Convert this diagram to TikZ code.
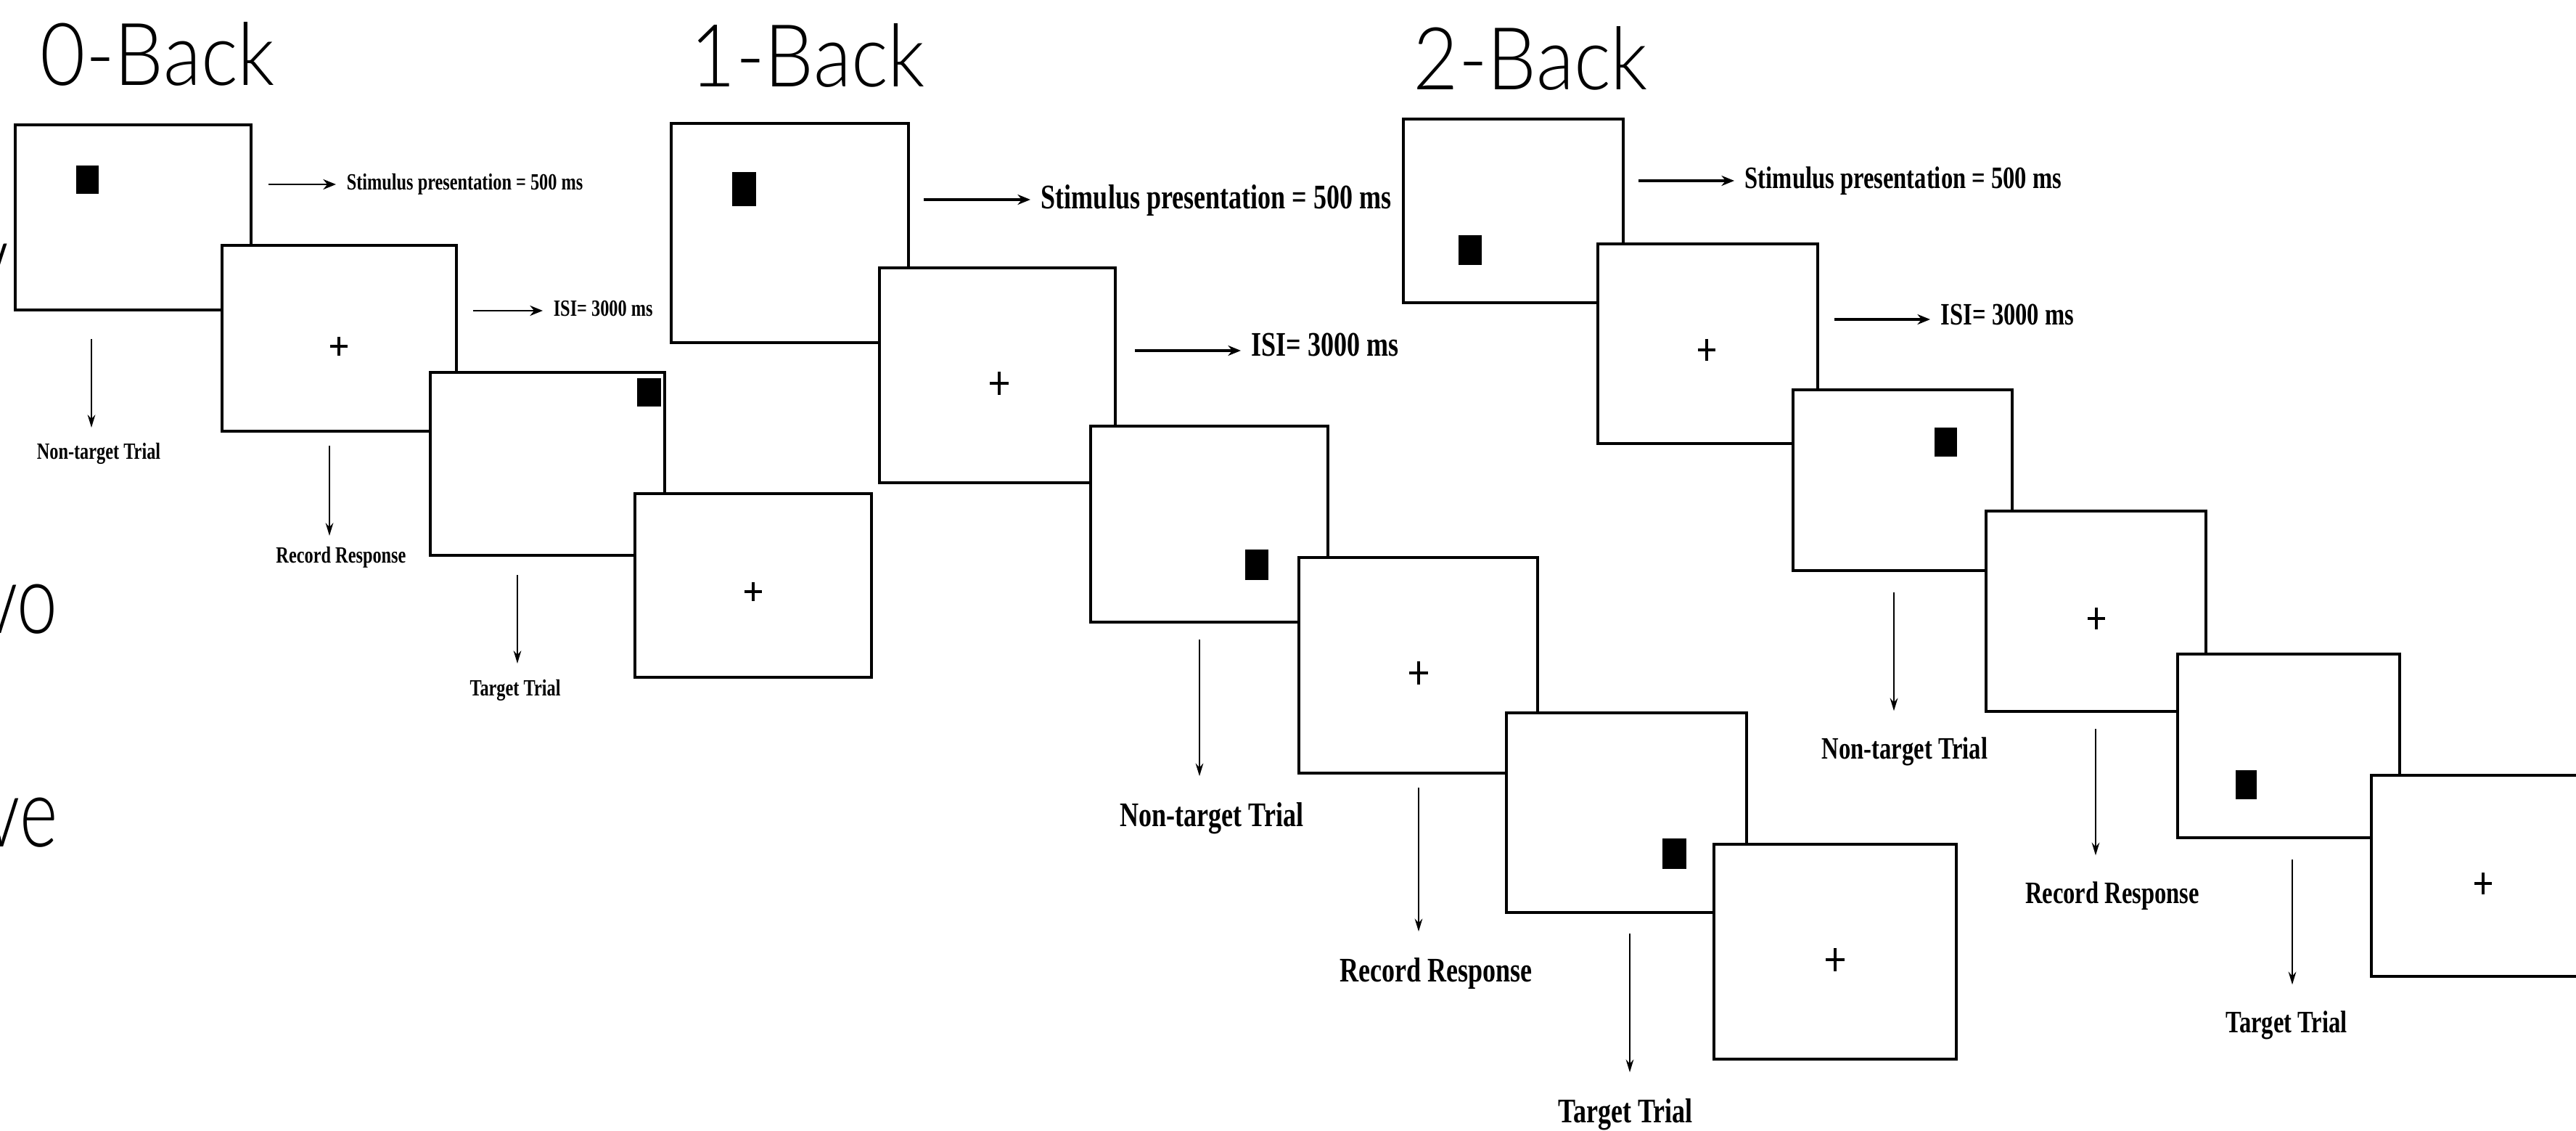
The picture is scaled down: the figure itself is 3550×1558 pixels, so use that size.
\documentclass[tikz,border=0pt]{standalone}
\usepackage{fontspec}
\setmainfont{Liberation Serif}
\newfontfamily\condfont[FakeStretch=0.76]{Liberation Serif}
\newfontfamily\titlefont[FakeStretch=0.9]{Lato Light}
\newfontfamily\fragfont[FakeStretch=0.75]{Lato Light}
\usetikzlibrary{arrows.meta}

\tikzset{
  scr/.style={draw, line width=0.9pt, fill=white},
  stim/.style={fill=black},
  fixc/.style={line width=1pt},
  harrow/.style={-{Stealth[length=5pt,width=4pt]}, line width=1.1pt},
  varrow/.style={-{Stealth[length=5pt,width=3pt]}, line width=0.8pt, shorten >=#1},
  varrow/.default=2pt,
  lab/.style={font=\condfont\bfseries\fontsize{#1}{#1}\selectfont, inner sep=4pt},
  ttl/.style={font=\titlefont\fontsize{34}{40}\selectfont, anchor=base west, inner sep=0pt},
  frag/.style={font=\fragfont\fontsize{38}{40}\selectfont, anchor=base east, inner sep=0pt},
}

\begin{document}
\begin{tikzpicture}[x=0.01cm, y=-0.01cm]
    \useasboundingbox (0,0) rectangle (3550,1558);
    \fill[white] (0,0) rectangle (3550,1558);
    \clip (0,0) rectangle (3550,1558);
    % ---- cut-off slide text ----
    \node[frag] (f1) at (12,403) {y};
    \node[frag] (f2) at (80,872) {vo};
    \node[frag] (f3) at (80,1166) {ve};
    % ---- 0-Back ----
    \node[ttl] (t0) at (55,118) {0-Back};
    \draw[scr] (21,172) rectangle (346,427);
    \fill[stim] (105,228) rectangle (136,267);
    \draw[scr] (306,338) rectangle (629,594);
    \draw[fixc] (467,477) +(-12,0) -- +(12,0) +(0,-13) -- +(0,13);
    \draw[scr] (593,513) rectangle (916,765);
    \fill[stim] (878,521) rectangle (911,560);
    \draw[scr] (875,680) rectangle (1201,933);
    \draw[fixc] (1038,815) +(-12,0) -- +(12,0) +(0,-13) -- +(0,13);
    \coordinate (s0) at (370,254);
    \node[lab=9.1, anchor=base west] (sp0) at (463,262) {Stimulus presentation = 500 ms};
    \draw[harrow, line width=0.8pt] (s0) -- (s0 -| sp0.west);
    \coordinate (i0) at (652,428);
    \node[lab=9.1, anchor=base west] (isi0) at (748,436) {ISI= 3000 ms};
    \draw[harrow, line width=0.8pt] (i0) -- (i0 -| isi0.west);
    \coordinate (n0) at (126,467);
    \node[lab=9.1, anchor=base] (nt0) at (136,633) {Non-target Trial};
    \draw[varrow] (n0) -- (n0 |- nt0.north);
    \coordinate (r0) at (454,614);
    \node[lab=9.1, anchor=base] (rr0) at (470,775) {Record Response};
    \draw[varrow=0pt] (r0) -- (r0 |- rr0.north);
    \coordinate (g0) at (713,792);
    \node[lab=9.1, anchor=base] (tt0) at (710,958) {Target Trial};
    \draw[varrow] (g0) -- (g0 |- tt0.north);
    % ---- 1-Back ----
    \node[ttl] (t1) at (951,120) {1-Back};
    \draw[scr] (925,170) rectangle (1252,472);
    \fill[stim] (1009,237) rectangle (1042,284);
    \draw[scr] (1212,369) rectangle (1537,665);
    \draw[fixc] (1377,528) +(-13,0) -- +(13,0) +(0,-16) -- +(0,16);
    \draw[scr] (1503,587) rectangle (1830,857);
    \fill[stim] (1716,757) rectangle (1748,799);
    \draw[scr] (1790,768) rectangle (2119,1065);
    \draw[fixc] (1955,927) +(-13,0) -- +(13,0) +(0,-16) -- +(0,16);
    \draw[scr] (2076,982) rectangle (2407,1257);
    \fill[stim] (2291,1155) rectangle (2324,1197);
    \draw[scr] (2362,1163) rectangle (2696,1459);
    \draw[fixc] (2529,1322) +(-13,0) -- +(13,0) +(0,-16) -- +(0,16);
    \coordinate (s1) at (1273,275);
    \node[lab=13.5, anchor=base west] (sp1) at (1420,288) {Stimulus presentation = 500 ms};
    \draw[harrow] (s1) -- (s1 -| sp1.west);
    \coordinate (i1) at (1564,483);
    \node[lab=13.5, anchor=base west] (isi1) at (1710,491) {ISI= 3000 ms};
    \draw[harrow] (i1) -- (i1 -| isi1.west);
    \coordinate (n1) at (1653,881);
    \node[lab=13.5, anchor=base] (nt1) at (1670,1138) {Non-target Trial};
    \draw[varrow=6pt] (n1) -- (n1 |- nt1.north);
    \coordinate (r1) at (1955,1085);
    \node[lab=13.5, anchor=base] (rr1) at (1979,1352) {Record Response};
    \draw[varrow=6pt] (r1) -- (r1 |- rr1.north);
    \coordinate (g1) at (2246,1286);
    \node[lab=13.5, anchor=base] (tt1) at (2240,1546) {Target Trial};
    \draw[varrow=6pt] (g1) -- (g1 |- tt1.north);
    % ---- 2-Back ----
    \node[ttl] (t2) at (1947,124) {2-Back};
    \draw[scr] (1934,164) rectangle (2237,417);
    \fill[stim] (2010,324) rectangle (2042,365);
    \draw[scr] (2202,336) rectangle (2505,611);
    \draw[fixc] (2352,482) +(-12,0) -- +(12,0) +(0,-15) -- +(0,15);
    \draw[scr] (2471,537) rectangle (2773,786);
    \fill[stim] (2666,589) rectangle (2697,629);
    \draw[scr] (2737,704) rectangle (3040,980);
    \draw[fixc] (2889,852) +(-12,0) -- +(12,0) +(0,-15) -- +(0,15);
    \draw[scr] (3001,901) rectangle (3307,1154);
    \fill[stim] (3081,1061) rectangle (3110,1101);
    \draw[scr] (3268,1068) rectangle (3600,1345);
    \draw[fixc] (3422,1217) +(-12,0) -- +(12,0) +(0,-15) -- +(0,15);
    \coordinate (s2) at (2258,249);
    \node[lab=12.2, anchor=base west] (sp2) at (2390,260) {Stimulus presentation = 500 ms};
    \draw[harrow] (s2) -- (s2 -| sp2.west);
    \coordinate (i2) at (2528,440);
    \node[lab=12.2, anchor=base west] (isi2) at (2660,448) {ISI= 3000 ms};
    \draw[harrow] (i2) -- (i2 -| isi2.west);
    \coordinate (n2) at (2610,816);
    \node[lab=12.2, anchor=base] (nt2) at (2625,1045) {Non-target Trial};
    \draw[varrow=6pt] (n2) -- (n2 |- nt2.north);
    \coordinate (r2) at (2888,1004);
    \node[lab=12.2, anchor=base] (rr2) at (2911,1244) {Record Response};
    \draw[varrow=6pt] (r2) -- (r2 |- rr2.north);
    \coordinate (g2) at (3159,1184);
    \node[lab=12.2, anchor=base] (tt2) at (3151,1422) {Target Trial};
    \draw[varrow=6pt] (g2) -- (g2 |- tt2.north);
\end{tikzpicture}
\end{document}
